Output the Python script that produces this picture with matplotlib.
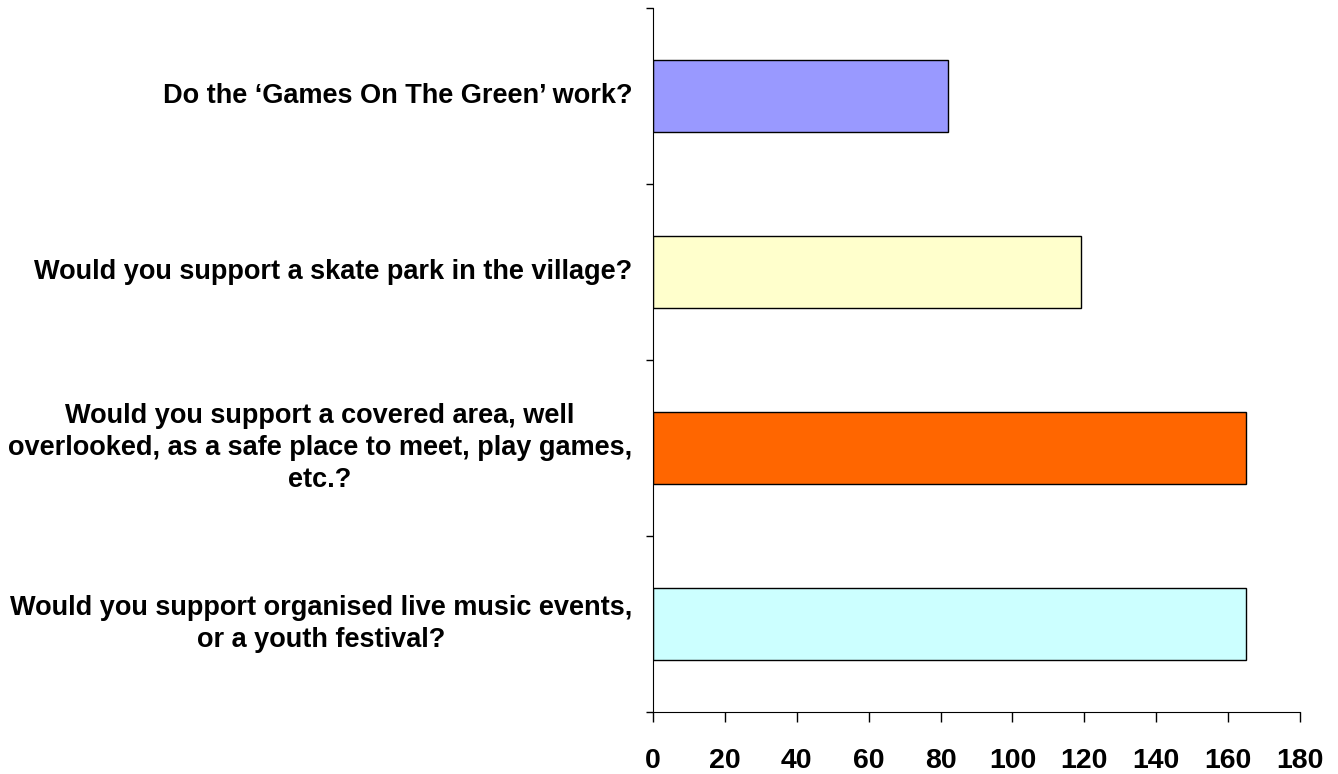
import matplotlib.pyplot as plt

# bottom to top
questions = [
    "Would you support organised live music events,\nor a youth festival?",
    "Would you support a covered area, well\noverlooked, as a safe place to meet, play games,\netc.?",
    "Would you support a skate park in the village?",
    "Do the \u2018Games On The Green\u2019 work?",
]
counts = [165, 165, 119, 82]
colors = ["#CCFFFF", "#FF6600", "#FFFFCC", "#9999FF"]
xticks = [0, 20, 40, 60, 80, 100, 120, 140, 160, 180]

fig = plt.figure(figsize=(13.38, 7.74), dpi=100)
ax = fig.add_axes([653 / 1338, 62 / 774, 647 / 1338, 704 / 774])

pos = range(len(questions))
ax.barh(pos, counts, height=0.41, color=colors, edgecolor="black", linewidth=1)

ax.set_xlim(0, 180)
ax.set_ylim(-0.5, len(questions) - 0.5)
ax.set_xticks(xticks)
ax.set_xticklabels([str(t) for t in xticks], fontsize=20.5, fontweight="bold",
                   family="Liberation Sans")
ax.set_yticks([i - 0.5 for i in range(len(questions) + 1)])
ax.set_yticklabels([])
ax.tick_params(axis="x", length=7, width=1, pad=19)
ax.tick_params(axis="y", length=5, width=1)

for i, q in enumerate(questions):
    ax.annotate(q, xy=(0, i), xytext=(-15, 0), textcoords="offset points",
                ha="right", va="center", multialignment="center",
                linespacing=1.3,
                fontsize=19.5, fontweight="bold", family="Liberation Sans")

ax.spines["top"].set_visible(False)
ax.spines["right"].set_visible(False)

fig.savefig("out.png", dpi=100)
